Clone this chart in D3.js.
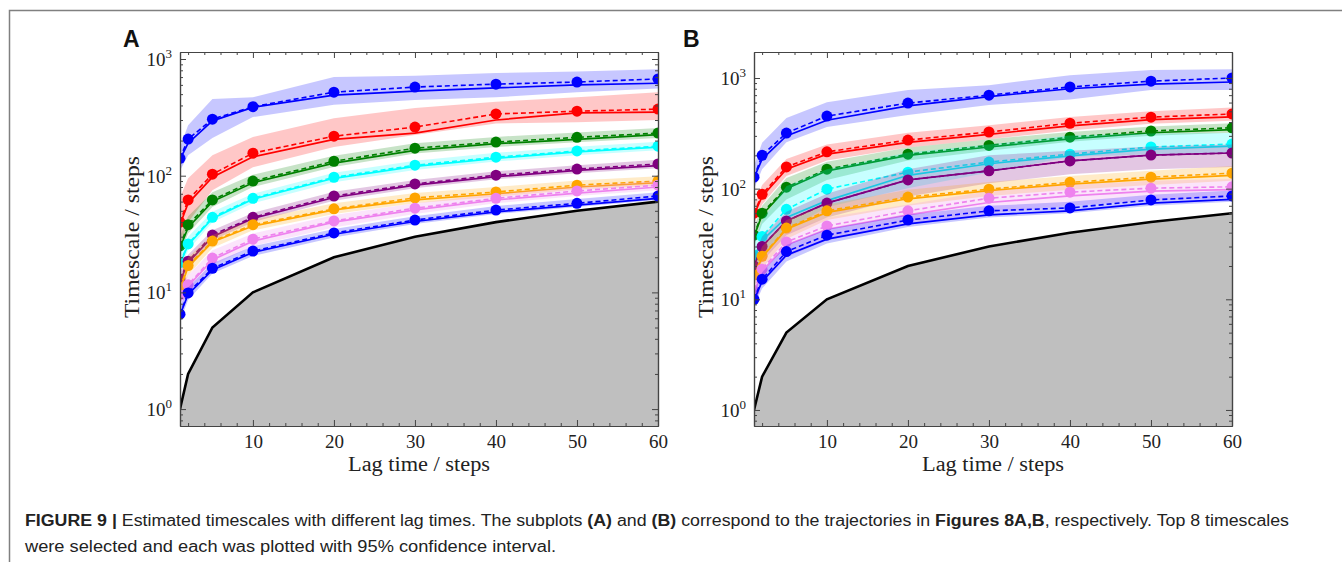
<!DOCTYPE html>
<html lang='en'>
  <head>
    <meta charset='utf-8'>
    <title>Figure 9</title>
    <script type='text/javascript' src='https://cdn.jsdelivr.net/npm/d3@7/dist/d3.min.js'></script>
    <style type='text/css'>
      body { margin: 0; background: white; }
      svg { display: block; background-color: white; }
      .caption { font-family: 'Liberation Sans', Arial, sans-serif; font-size: 16px; fill: #222; }
    </style>
  </head>
  <body>
    <div id='chart'></div>
    <script type='text/javascript'>

    // lag times (x) and one colour per timescale
    var lags = [1, 2, 5, 10, 20, 30, 40, 50, 60];
    var colors = ['#0000ff', '#ff0000', '#008000', '#00ffff', '#800080', '#ffa500', '#ee82ee', '#0000ff'];
    var xTicks = [10, 20, 30, 40, 50, 60];
    var yTicks = [1, 10, 100, 1000];

    // panel A : dashed (with markers), solid, 95% band
    var aDashed = [
      [141, 206, 305, 390, 520, 575, 609, 635, 675],
      [40, 62, 103, 156, 218, 261, 338, 357, 372],
      [25, 38, 62, 90, 133, 172, 194, 213, 232],
      [18, 26, 44, 64, 97, 123, 144, 163, 179],
      [13, 18.5, 31, 44, 67, 85, 101, 114, 126],
      [11, 17, 27.5, 38, 52, 64.5, 72.5, 83, 90],
      [9.5, 11.6, 19.7, 28.6, 41, 52.7, 64, 74, 83],
      [6.5, 9.9, 16.1, 22.6, 32.3, 41.7, 50.7, 58, 67]
    ];
    var aSolid = [
      [138, 190, 295, 385, 490, 530, 565, 600, 620],
      [38, 58, 97, 145, 205, 232, 300, 345, 350],
      [24, 36, 60, 87, 128, 165, 188, 205, 225],
      [17.5, 25.5, 43, 63, 95, 120, 141, 160, 176],
      [12.5, 18, 30, 43, 65, 83, 98, 111, 122],
      [10.5, 16.5, 27, 37, 51, 62, 70, 80, 87],
      [9.2, 11.3, 19, 27.5, 40, 51, 62, 71, 80],
      [6.4, 9.6, 15.6, 22, 31.5, 40.5, 49, 56, 64]
    ];
    var aLow = [
      [110, 150, 210, 318, 405, 445, 470, 520, 560],
      [25, 40, 75, 118, 176, 223, 280, 287, 300],
      [21, 32, 54, 80, 119, 155, 176, 193, 210],
      [15.5, 23, 40, 58, 88, 112, 132, 150, 165],
      [11, 16, 28, 40, 61, 78, 93, 105, 116],
      [9, 14, 24, 34, 47, 58, 66, 76, 82],
      [7.5, 9.8, 17, 25, 36, 47, 58, 67, 75],
      [5.6, 8.6, 14.5, 20.5, 29.5, 38.5, 47, 54, 62]
    ];
    var aHigh = [
      [175, 270, 455, 470, 700, 720, 760, 780, 815],
      [65, 95, 150, 215, 310, 380, 430, 470, 520],
      [30, 45, 72, 102, 148, 190, 215, 235, 256],
      [21, 30, 49, 70, 106, 134, 157, 177, 195],
      [15, 21, 34, 48, 73, 92, 109, 123, 137],
      [13, 20, 31, 42, 58, 71, 80, 91, 99],
      [11.5, 14, 23, 32, 46, 58, 70, 81, 91],
      [7.5, 11, 17.8, 24.8, 35, 45, 55, 63, 72]
    ];

    // panel B
    var bDashed = [
      [127, 200, 318, 453, 593, 700, 830, 937, 1000],
      [60, 89, 157, 215, 275, 325, 390, 443, 473],
      [38, 60, 103, 150, 205, 246, 292, 332, 355],
      [25, 37, 65, 99, 141, 174, 205, 238, 253],
      [20, 30, 51, 74, 120, 145, 178, 201, 210],
      [16.6, 24.5, 44, 63, 84, 99, 114, 127, 138],
      [12, 18.7, 33, 46, 63, 82, 93, 101, 104],
      [10, 15.2, 27, 38, 52, 63, 67, 79, 86]
    ];
    var bSolid = [
      [125, 185, 300, 415, 560, 680, 800, 880, 920],
      [58, 85, 150, 205, 262, 310, 370, 420, 445],
      [37, 58, 100, 145, 200, 238, 282, 320, 342],
      [24, 34, 55, 78, 132, 168, 198, 228, 242],
      [20, 30, 51, 74, 120, 145, 178, 201, 210],
      [16, 24, 43, 61, 81, 96, 110, 122, 132],
      [11.5, 18, 31, 43, 58, 75, 86, 95, 98],
      [9.8, 14.5, 25, 35, 48, 58, 63, 74, 80]
    ];
    var bLow = [
      [100, 150, 263, 360, 462, 570, 640, 780, 780],
      [48, 72, 130, 180, 235, 280, 335, 385, 410],
      [30, 48, 80, 120, 180, 220, 265, 300, 320],
      [16, 25, 42, 68, 101, 140, 193, 205, 210],
      [15, 22, 38, 55, 85, 112, 135, 150, 157],
      [13, 19, 35, 52, 70, 86, 98, 108, 118],
      [9, 14, 24, 34, 48, 60, 70, 78, 82],
      [8.5, 12.5, 22, 32, 45, 55, 60, 70, 76]
    ];
    var bHigh = [
      [160, 260, 435, 605, 780, 862, 1060, 1180, 1200],
      [72, 108, 185, 250, 320, 375, 445, 500, 540],
      [45, 70, 125, 175, 235, 280, 325, 365, 390],
      [32, 52, 105, 150, 212, 250, 302, 315, 318],
      [25, 37, 62, 90, 150, 200, 220, 240, 250],
      [20, 30, 52, 72, 98, 115, 130, 145, 160],
      [15, 23, 40, 55, 72, 95, 108, 118, 122],
      [11.5, 17.5, 31, 43, 58, 70, 76, 88, 96]
    ];

    var W = 1342, H = 562;
    var serif = "'Liberation Serif', 'DejaVu Serif', serif";
    var svg = d3.select('#chart').append('svg')
        .attr('width', W)
        .attr('height', H);

    // page frame
    svg.append('path')
        .attr('d', 'M9.5,' + H + 'V10.5H' + W)
        .attr('fill', 'none')
        .attr('stroke', '#808080')
        .attr('stroke-width', 1.5);

    var panels = [
      { name: 'A', letterX: 123, left: 180, right: 658, top: 52, bottom: 426, yMax: Math.pow(10, 3.06),
        dashed: aDashed, solid: aSolid, low: aLow, high: aHigh },
      { name: 'B', letterX: 683, left: 754, right: 1232, top: 52, bottom: 426, yMax: Math.pow(10, 3.235),
        dashed: bDashed, solid: bSolid, low: bLow, high: bHigh }
    ];

    panels.forEach(function(p) {
      var w = p.right - p.left, h = p.bottom - p.top;
      var g = svg.append('g').attr('transform', 'translate(' + p.left + ',' + p.top + ')');

      var x = d3.scaleLinear().domain([1, 60]).range([0, w]);
      var y = d3.scaleLog().domain([Math.pow(10, -0.145), p.yMax]).range([h, 0]);

      var clipId = 'clip' + p.name;
      g.append('clipPath').attr('id', clipId)
        .append('rect').attr('width', w).attr('height', h);
      var plot = g.append('g').attr('clip-path', 'url(#' + clipId + ')');

      // gray region below timescale = lag time
      plot.append('path')
        .datum(lags)
        .attr('fill', '#bfbfbf')
        .attr('d', d3.area().x(function(d) { return x(d); }).y0(h + 5).y1(function(d) { return y(d); }));
      plot.append('path')
        .datum(lags)
        .attr('fill', 'none')
        .attr('stroke', '#000')
        .attr('stroke-width', 2.6)
        .attr('d', d3.line().x(function(d) { return x(d); }).y(function(d) { return y(d); }));

      var line = d3.line().x(function(d, i) { return x(lags[i]); }).y(function(d) { return y(d); });
      var band = d3.area()
        .x(function(d, i) { return x(lags[i]); })
        .y0(function(d) { return y(d[0]); })
        .y1(function(d) { return y(d[1]); });

      colors.forEach(function(c, k) {
        var s = plot.append('g');
        s.append('path')
          .datum(p.low[k].map(function(v, i) { return [v, p.high[k][i]]; }))
          .attr('fill', c)
          .attr('fill-opacity', 0.22)
          .attr('d', band);
        s.append('path')
          .datum(p.solid[k])
          .attr('fill', 'none')
          .attr('stroke', c)
          .attr('stroke-width', 1.7)
          .attr('d', line);
        s.append('path')
          .datum(p.dashed[k])
          .attr('fill', 'none')
          .attr('stroke', c)
          .attr('stroke-width', 1.6)
          .attr('stroke-dasharray', '5,3')
          .attr('d', line);
        s.selectAll('circle')
          .data(p.dashed[k])
          .enter()
          .append('circle')
          .attr('cx', function(d, i) { return x(lags[i]); })
          .attr('cy', function(d) { return y(d); })
          .attr('r', 5.5)
          .attr('fill', c);
      });

      // axes, ticks pointing inward on every side
      var xMinor = d3.range(2, 60, 2).filter(function(v) { return v % 10 !== 0; });
      var yMinor = [];
      [-1, 0, 1, 2, 3].forEach(function(e) {
        d3.range(2, 10).forEach(function(m) {
          var v = m * Math.pow(10, e);
          if (v > y.domain()[0] && v < y.domain()[1]) yMinor.push(v);
        });
      });

      var axisColor = '#444';
      function styleAxis(sel) {
        sel.selectAll('path, line').attr('stroke', axisColor);
        sel.selectAll('path').attr('stroke-width', 1.2);
      }

      g.append('g').attr('transform', 'translate(0,' + h + ')')
        .call(d3.axisBottom(x).tickValues(xTicks).tickSize(-6).tickSizeOuter(0).tickPadding(9))
        .call(styleAxis)
        .selectAll('text').attr('font-size', 19).attr('fill', '#222')
        .attr('font-family', serif);
      g.append('g').attr('transform', 'translate(0,' + h + ')')
        .call(d3.axisBottom(x).tickValues(xMinor).tickSize(-3).tickSizeOuter(0).tickFormat(''))
        .call(styleAxis);
      g.append('g')
        .call(d3.axisTop(x).tickValues(xTicks).tickSize(-6).tickSizeOuter(0).tickFormat(''))
        .call(styleAxis);
      g.append('g')
        .call(d3.axisTop(x).tickValues(xMinor).tickSize(-3).tickSizeOuter(0).tickFormat(''))
        .call(styleAxis);

      g.append('g')
        .call(d3.axisLeft(y).tickValues(yTicks).tickSize(-6).tickSizeOuter(0).tickFormat(''))
        .call(styleAxis);
      g.append('g')
        .call(d3.axisLeft(y).tickValues(yMinor).tickSize(-3).tickSizeOuter(0).tickFormat(''))
        .call(styleAxis);
      g.append('g').attr('transform', 'translate(' + w + ',0)')
        .call(d3.axisRight(y).tickValues(yTicks).tickSize(-6).tickSizeOuter(0).tickFormat(''))
        .call(styleAxis);
      g.append('g').attr('transform', 'translate(' + w + ',0)')
        .call(d3.axisRight(y).tickValues(yMinor).tickSize(-3).tickSizeOuter(0).tickFormat(''))
        .call(styleAxis);

      // y tick labels 10^k
      var lab = g.append('g')
        .attr('font-family', serif)
        .attr('fill', '#222');
      yTicks.forEach(function(v) {
        var t = lab.append('text')
          .attr('x', -8)
          .attr('y', y(v) + 7)
          .attr('text-anchor', 'end')
          .attr('font-size', 19);
        t.append('tspan').text('10');
        t.append('tspan').attr('dy', -8).attr('font-size', 13).text(Math.round(Math.log10(v)));
      });

      // axis titles
      g.append('text')
        .attr('x', w / 2)
        .attr('y', h + 45)
        .attr('text-anchor', 'middle')
        .attr('font-family', serif)
        .attr('font-size', 20)
        .attr('textLength', 142)
        .attr('lengthAdjust', 'spacingAndGlyphs')
        .attr('fill', '#222')
        .text('Lag time / steps');
      g.append('text')
        .attr('transform', 'translate(' + (-41) + ',' + (h / 2 - 2) + ') rotate(-90)')
        .attr('text-anchor', 'middle')
        .attr('font-family', serif)
        .attr('font-size', 20)
        .attr('textLength', 162)
        .attr('lengthAdjust', 'spacingAndGlyphs')
        .attr('fill', '#222')
        .text('Timescale / steps');

      // panel letter
      svg.append('text')
        .attr('x', p.letterX)
        .attr('y', 47)
        .attr('font-family', "'Liberation Sans', Arial, sans-serif")
        .attr('font-weight', 'bold')
        .attr('font-size', 23)
        .attr('fill', '#111')
        .text(p.name);
    });

    // caption
    var cap1 = svg.append('text').attr('class', 'caption').attr('x', 25).attr('y', 526)
      .attr('textLength', 1264).attr('lengthAdjust', 'spacingAndGlyphs');
    cap1.append('tspan').attr('font-weight', 'bold').text('FIGURE 9 | ');
    cap1.append('tspan').text('Estimated timescales with different lag times. The subplots ');
    cap1.append('tspan').attr('font-weight', 'bold').text('(A)');
    cap1.append('tspan').text(' and ');
    cap1.append('tspan').attr('font-weight', 'bold').text('(B)');
    cap1.append('tspan').text(' correspond to the trajectories in ');
    cap1.append('tspan').attr('font-weight', 'bold').text('Figures 8A,B');
    cap1.append('tspan').text(', respectively. Top 8 timescales');
    svg.append('text').attr('class', 'caption').attr('x', 25).attr('y', 552)
      .attr('textLength', 531).attr('lengthAdjust', 'spacingAndGlyphs')
      .text('were selected and each was plotted with 95% confidence interval.');

    </script>
  </body>
</html>
